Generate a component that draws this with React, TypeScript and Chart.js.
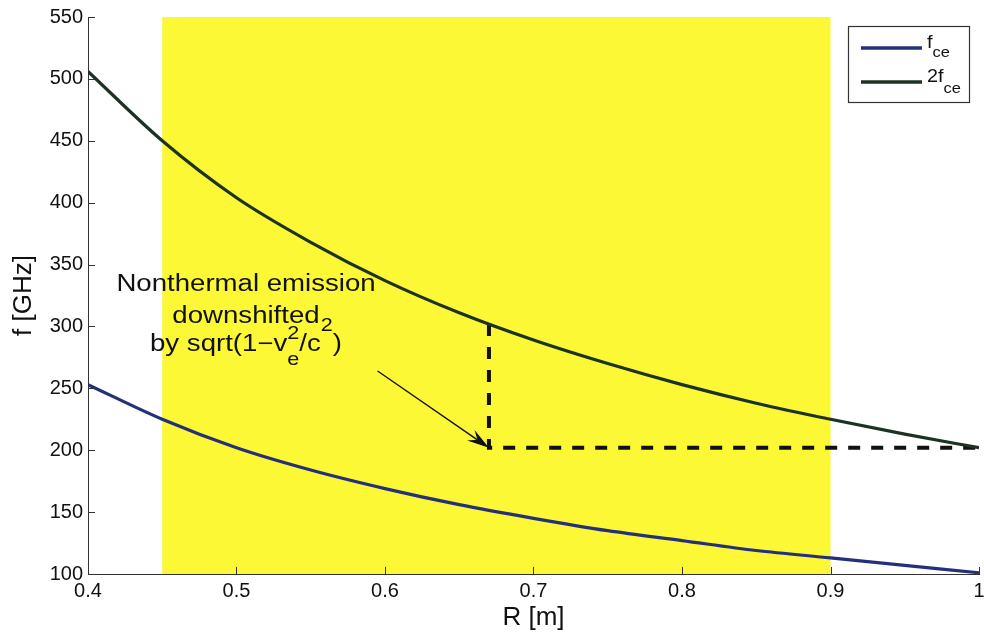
import { useEffect, useRef } from "react";
import { Chart, registerables } from "chart.js";

Chart.register(...registerables);

// ---- data ----
const radius = [0.4, 0.45, 0.5, 0.55, 0.6, 0.65, 0.7, 0.75, 0.8, 0.85, 0.9, 0.95, 1.0];
const fce = [253, 225, 202, 184, 169, 156, 145, 135, 127, 119, 113, 107, 101];
const twoFce = [506, 450, 404, 368, 337, 311, 289, 270, 253, 238, 225, 213, 202];
const downshiftR = [0.67, 0.67, 1.0];
const downshiftF = [302, 202, 202];
const arrowTailR = 0.595;
const arrowTailF = 264;
const arrowTipR = 0.67;
const arrowTipF = 202;
const shadeRange = [0.45, 0.9];
const xTicks = [0.4, 0.5, 0.6, 0.7, 0.8, 0.9, 1.0];
const xTickLabels = ["0.4", "0.5", "0.6", "0.7", "0.8", "0.9", "1"];
const yTicks = [100, 150, 200, 250, 300, 350, 400, 450, 500, 550];
const yTickLabels = ["100", "150", "200", "250", "300", "350", "400", "450", "500", "550"];
const annotationLines = ["Nonthermal emission", "downshifted"];

const FONT = '"Liberation Sans", Arial, Helvetica, sans-serif';
const BLUE = "#24307a";
const GREEN = "#1c3324";
const YELLOW = "#fdf836";
const INK = "#111111";

const W = 984;
const H = 638;

function fillStretched(ctx: CanvasRenderingContext2D, text: string, x: number, y: number, size: number, sx: number) {
  ctx.save();
  ctx.font = `${size}px ${FONT}`;
  ctx.translate(x, y);
  ctx.scale(sx, 1);
  ctx.textAlign = "left";
  ctx.textBaseline = "alphabetic";
  ctx.fillText(text, 0, 0);
  ctx.restore();
}

function widthOf(ctx: CanvasRenderingContext2D, text: string, size: number) {
  ctx.save();
  ctx.font = `${size}px ${FONT}`;
  const w = ctx.measureText(text).width;
  ctx.restore();
  return w;
}

const decorPlugin = {
  id: "decor",
  beforeDraw(chart: any) {
    const { ctx, chartArea, scales } = chart;
    ctx.save();
    ctx.fillStyle = "#ffffff";
    ctx.fillRect(0, 0, chart.width, chart.height);
    const x0 = scales.x.getPixelForValue(shadeRange[0]);
    const x1 = scales.x.getPixelForValue(shadeRange[1]);
    ctx.fillStyle = YELLOW;
    ctx.fillRect(x0, chartArea.top, x1 - x0, chartArea.bottom - chartArea.top);
    ctx.restore();
  },
  beforeDatasetsDraw(chart: any) {
    const { ctx, chartArea, scales } = chart;
    ctx.save();
    ctx.strokeStyle = "#333333";
    ctx.lineWidth = 1;
    ctx.beginPath();
    for (const v of yTicks) {
      const y = Math.round(scales.y.getPixelForValue(v)) + 0.5;
      ctx.moveTo(chartArea.left, y);
      ctx.lineTo(chartArea.left + 7, y);
    }
    for (const v of xTicks) {
      const x = Math.round(scales.x.getPixelForValue(v)) + 0.5;
      ctx.moveTo(x, chartArea.bottom);
      ctx.lineTo(x, chartArea.bottom - 7);
    }
    ctx.stroke();
    ctx.restore();
  },
  afterDatasetsDraw(chart: any) {
    const { ctx, scales } = chart;
    // arrow
    const tx = scales.x.getPixelForValue(arrowTailR);
    const ty = scales.y.getPixelForValue(arrowTailF);
    const hx = scales.x.getPixelForValue(arrowTipR);
    const hy = scales.y.getPixelForValue(arrowTipF);
    const ang = Math.atan2(hy - ty, hx - tx);
    const len = 20;
    const half = 6.5;
    const c = Math.cos(ang);
    const s = Math.sin(ang);
    const bx = hx - len * c;
    const by = hy - len * s;
    const nx = -s;
    const ny = c;
    ctx.save();
    ctx.strokeStyle = INK;
    ctx.fillStyle = INK;
    ctx.lineWidth = 1.4;
    ctx.beginPath();
    ctx.moveTo(tx, ty);
    ctx.lineTo(bx + 6 * c, by + 6 * s);
    ctx.stroke();
    ctx.beginPath();
    ctx.moveTo(hx, hy);
    ctx.lineTo(bx + nx * half - 2 * c, by + ny * half - 2 * s);
    ctx.lineTo(bx + 6 * c, by + 6 * s);
    ctx.lineTo(bx - nx * half - 2 * c, by - ny * half - 2 * s);
    ctx.closePath();
    ctx.fill();

    // annotation text
    const sx = 1.2;
    const main = 23;
    const small = 18;
    const cx = 246;
    ctx.fillStyle = INK;
    const baselines = [291, 323];
    annotationLines.forEach((t, i) => {
      const w = widthOf(ctx, t, main) * sx;
      fillStretched(ctx, t, cx - w / 2, baselines[i], main, sx);
    });
    // third line: by sqrt(1−v_e^2/c^2)
    const p1 = "by sqrt(1\u2212v";
    const p2 = "/c";
    const p3 = ")";
    const wp1 = widthOf(ctx, p1, main);
    const wStack = Math.max(widthOf(ctx, "2", small), widthOf(ctx, "e", small));
    const wp2 = widthOf(ctx, p2, main);
    const wSup = widthOf(ctx, "2", small);
    const wp3 = widthOf(ctx, p3, main);
    const total = (wp1 + wStack + wp2 + wSup + wp3) * sx;
    let x = cx - total / 2;
    const b3 = 351;
    fillStretched(ctx, p1, x, b3, main, sx);
    x += wp1 * sx;
    fillStretched(ctx, "2", x, 339, small, sx);
    fillStretched(ctx, "e", x, 365, small, sx);
    x += wStack * sx;
    fillStretched(ctx, p2, x, b3, main, sx);
    x += wp2 * sx;
    fillStretched(ctx, "2", x, 331, small, sx);
    x += wSup * sx;
    fillStretched(ctx, p3, x, b3, main, sx);
    ctx.restore();
  },
  afterDraw(chart: any) {
    const { ctx } = chart;
    ctx.save();
    // legend box
    ctx.fillStyle = "#ffffff";
    ctx.fillRect(848, 26, 121, 76);
    ctx.strokeStyle = "#333333";
    ctx.lineWidth = 1.2;
    ctx.strokeRect(848.5, 26.5, 121, 76);
    const entries = [
      { color: BLUE, y: 48, pre: "f", sub: "ce", subY: 57 },
      { color: GREEN, y: 82, pre: "2f", sub: "ce", subY: 93 },
    ];
    for (const e of entries) {
      ctx.strokeStyle = e.color;
      ctx.lineWidth = 3.5;
      ctx.beginPath();
      ctx.moveTo(861, e.y);
      ctx.lineTo(922, e.y);
      ctx.stroke();
      ctx.fillStyle = INK;
      fillStretched(ctx, e.pre, 927, e.y, 18, 1.1);
      const w = widthOf(ctx, e.pre, 18) * 1.1;
      fillStretched(ctx, e.sub, 927 + w, e.subY, 15, 1.1);
    }
    ctx.restore();
  },
};

export default function App() {
  const ref = useRef<HTMLCanvasElement | null>(null);
  useEffect(() => {
    if (!ref.current) return;
    const chart = new Chart(ref.current, {
      type: "line",
      data: {
        datasets: [
          {
            label: "fce",
            data: radius.map((r, i) => ({ x: r, y: fce[i] })),
            borderColor: BLUE,
            borderWidth: 3.2,
            pointRadius: 0,
            cubicInterpolationMode: "monotone",
            fill: false,
          },
          {
            label: "2fce",
            data: radius.map((r, i) => ({ x: r, y: twoFce[i] })),
            borderColor: GREEN,
            borderWidth: 3.2,
            pointRadius: 0,
            cubicInterpolationMode: "monotone",
            fill: false,
          },
          {
            label: "downshift",
            data: downshiftR.map((r, i) => ({ x: r, y: downshiftF[i] })),
            borderColor: INK,
            borderWidth: 4,
            borderDash: [12, 11],
            borderCapStyle: "butt",
            pointRadius: 0,
            tension: 0,
            fill: false,
          },
        ],
      },
      options: {
        responsive: false,
        animation: false,
        events: [],
        layout: { padding: { top: 17, right: 5, left: 0, bottom: 0 } },
        plugins: { legend: { display: false }, tooltip: { enabled: false } },
        scales: {
          x: {
            type: "linear",
            min: 0.4,
            max: 1.0,
            afterBuildTicks: (s: any) => {
              s.ticks = xTicks.map((v) => ({ value: v }));
            },
            afterFit: (s: any) => {
              s.height = H - 574;
              s.paddingLeft = 0;
              s.paddingRight = 0;
            },
            ticks: {
              callback: (_v: any, i: number) => xTickLabels[i],
              color: INK,
              font: { family: FONT, size: 20 },
              padding: 5,
              maxRotation: 0,
              autoSkip: false,
            },
            grid: { display: false, drawTicks: false },
            border: { display: true, color: "#333333", width: 1 },
            title: {
              display: true,
              text: "R [m]",
              color: INK,
              font: { family: FONT, size: 26 },
              padding: { top: 0, bottom: 5 },
            },
          },
          y: {
            type: "linear",
            min: 100,
            max: 550,
            afterBuildTicks: (s: any) => {
              s.ticks = yTicks.map((v) => ({ value: v }));
            },
            afterFit: (s: any) => {
              s.width = 88;
              s.paddingTop = 0;
              s.paddingBottom = 0;
            },
            ticks: {
              callback: (_v: any, i: number) => yTickLabels[i],
              color: INK,
              font: { family: FONT, size: 20 },
              padding: 5,
              autoSkip: false,
            },
            grid: { display: false, drawTicks: false },
            border: { display: true, color: "#333333", width: 1 },
            title: {
              display: true,
              text: "f [GHz]",
              color: INK,
              font: { family: FONT, size: 26 },
              padding: { top: 8, bottom: 0 },
            },
          },
        },
      },
      plugins: [decorPlugin],
    } as any);
    return () => chart.destroy();
  }, []);
  return (
    <div style={{ position: "absolute", left: 0, top: 0, width: W, height: H }}>
      <canvas ref={ref} width={W} height={H} style={{ display: "block" }} />
    </div>
  );
}
